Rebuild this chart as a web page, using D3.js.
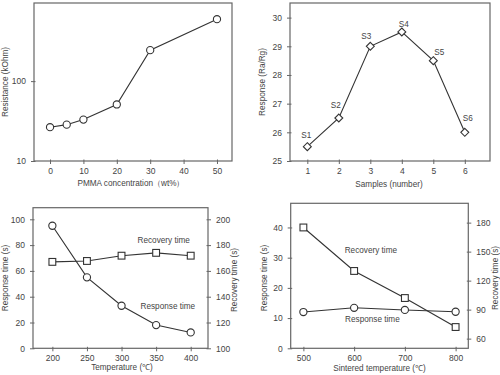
<!DOCTYPE html>
<html><head><meta charset="utf-8">
<script src="https://cdn.jsdelivr.net/npm/d3@7"></script>
<style>
html,body{margin:0;padding:0;background:#fff;}
svg{display:block;}
text{font-family:"Liberation Sans",Arial,sans-serif;fill:#444;}
</style></head>
<body>
<script>
// ---- data ----
const pmmaConc = [0, 5, 10, 20, 30, 50];
const resistance = [26.5, 28.5, 33, 51, 244, 596];

const samples = [1, 2, 3, 4, 5, 6];
const sampleLabels = ["S1", "S2", "S3", "S4", "S5", "S6"];
const sampleResponse = [25.5, 26.5, 29, 29.5, 28.5, 26];

const opTemps = [200, 250, 300, 350, 400];
const opResponseTime = [95, 55, 33, 18, 12.3];
const opRecoveryTime = [167, 167.7, 171.8, 174, 171.8];

const sinterTemps = [500, 600, 700, 800];
const sinterResponseTime = [12, 13.4, 12.7, 12.1];
const sinterRecoveryTime = [175, 130, 102, 72];

const p1XTicks = [0, 10, 20, 30, 40, 50];
const p1YTicks = [10, 100];
const p2XTicks = [1, 2, 3, 4, 5, 6];
const p2YTicks = [25, 26, 27, 28, 29, 30];
const p3XTicks = [200, 250, 300, 350, 400];
const p3YTicks = [0, 20, 40, 60, 80, 100];
const p3Y2Ticks = [100, 120, 140, 160, 180, 200];
const p4XTicks = [500, 600, 700, 800];
const p4YTicks = [0, 10, 20, 30, 40];
const p4Y2Ticks = [60, 90, 120, 150, 180];

// ---- style ----
const LINE = "#333", FRAME = "#666", TF = 8.5, LF = 8.2;
const sampleLabelOffsets = [[-1,-11],[-3,-12.5],[-4,-9],[2,-7],[6,-8],[3,-13]];

const svg = d3.select("body").append("svg").attr("width", 500).attr("height", 375);

function frame(x0, x1, y0, y1) {
  svg.append("rect").attr("x", x0).attr("y", y0).attr("width", x1 - x0).attr("height", y1 - y0)
    .attr("fill", "none").attr("stroke", FRAME).attr("stroke-width", 1.2);
}
function xAxis(scale, y, major, minor, fmt) {
  const g = svg.append("g").attr("transform", `translate(0,${y})`);
  g.call(d3.axisBottom(scale).tickValues(minor).tickFormat("").tickSize(2));
  g.call(d3.axisBottom(scale).tickValues(major).tickFormat(fmt || d3.format("d")).tickSize(3).tickPadding(4));
  g.selectAll(".domain").remove();
  g.selectAll(".tick line").attr("stroke", FRAME).attr("y1", -1.5);
  g.selectAll(".tick text").attr("font-size", TF).style("fill", "#444");
  g.attr("font-family", null);
}
function yAxis(scale, x, major, minor, fmt, right) {
  const ax = right ? d3.axisRight : d3.axisLeft;
  const g = svg.append("g").attr("transform", `translate(${x},0)`);
  g.call(ax(scale).tickValues(minor).tickFormat("").tickSize(2));
  g.call(ax(scale).tickValues(major).tickFormat(fmt || d3.format("d")).tickSize(3).tickPadding(5));
  g.selectAll(".domain").remove();
  g.selectAll(".tick line").attr("stroke", FRAME).attr("x1", right ? -1.5 : 1.5);
  g.selectAll(".tick text").attr("font-size", TF).style("fill", "#444");
  g.attr("font-family", null);
}
function title(x, y, txt, rot) {
  const t = svg.append("text").attr("font-size", LF).attr("text-anchor", "middle")
    .attr("dominant-baseline", "middle").text(txt);
  if (rot) t.attr("transform", `translate(${x},${y}) rotate(-90)`);
  else t.attr("x", x).attr("y", y);
}
function lineSeries(xs, ys, xS, yS, marker) {
  const pts = xs.map((d, i) => [xS(d), yS(ys[i])]);
  svg.append("path").attr("d", d3.line()(pts)).attr("fill", "none").attr("stroke", LINE).attr("stroke-width", 1.1);
  const g = svg.append("g");
  pts.forEach(p => {
    if (marker === "circle") g.append("circle").attr("cx", p[0]).attr("cy", p[1]).attr("r", 3.6);
    else if (marker === "square") g.append("rect").attr("x", p[0] - 3.4).attr("y", p[1] - 3.4).attr("width", 6.8).attr("height", 6.8);
    else g.append("path").attr("d", d3.symbol(d3.symbolDiamond2, 40)()).attr("transform", `translate(${p[0]},${p[1]})`);
  });
  g.selectAll("*").attr("fill", "#fff").attr("stroke", LINE).attr("stroke-width", 1.1);
  return pts;
}
function range(a, b, s) { return d3.range(a, b + s / 2, s); }

// ---- Panel 1 ----
{
  const x = d3.scaleLinear().domain([-4.8, 54.5]).range([34, 232]);
  const y = d3.scaleLog().domain([10, 950]).range([161, 3]);
  const minorY = [20,30,40,50,60,70,80,90,200,300,400,500,600,700,800,900];
  yAxis(y, 34, p1YTicks, minorY, d3.format("d"));
  xAxis(x, 161, p1XTicks, [5, 15, 25, 35, 45], d3.format("d"));
  frame(34, 232, 3, 161);
  lineSeries(pmmaConc, resistance, x, y, "circle");
  title(6, 82, "Resistance (kOhm)", true);
  title(131, 184, "PMMA concentration（wt%）");
}
// ---- Panel 2 ----
{
  const x = d3.scaleLinear().domain([0.45, 6.8]).range([290, 490]);
  const y = d3.scaleLinear().domain([25, 30.51]).range([161, 3]);
  yAxis(y, 290, p2YTicks, range(25.5, 30.5, 1), d3.format("d"));
  xAxis(x, 161, p2XTicks, range(1.5, 6.5, 1), d3.format("d"));
  frame(290, 490, 3, 161);
  const pts = lineSeries(samples, sampleResponse, x, y, "diamond");
  svg.append("g").selectAll("text").data(sampleLabels).join("text")
    .attr("x", (d, i) => pts[i][0] + sampleLabelOffsets[i][0])
    .attr("y", (d, i) => pts[i][1] + sampleLabelOffsets[i][1])
    .attr("font-size", LF).attr("text-anchor", "middle").attr("dominant-baseline", "middle").text(d => d);
  title(263, 82, "Response (Ra/Rg)", true);
  title(389, 184.5, "Samples (number)");
}
// ---- Panel 3 ----
{
  const x = d3.scaleLinear().domain([172, 425]).range([33, 208]);
  const y = d3.scaleLinear().domain([0, 109]).range([348.3, 207.7]);
  const y2 = d3.scaleLinear().domain([100, 209]).range([348.3, 207.7]);
  yAxis(y, 33, p3YTicks, range(10, 90, 20), d3.format("d"));
  yAxis(y2, 208, p3Y2Ticks, range(110, 190, 20), d3.format("d"), true);
  xAxis(x, 348.3, p3XTicks, range(225, 375, 50), d3.format("d"));
  frame(33, 208, 207.7, 348.3);
  lineSeries(opTemps, opRecoveryTime, x, y2, "square");
  lineSeries(opTemps, opResponseTime, x, y, "circle");
  title(x(361), y(83.4), "Recovery time");
  title(x(367), y(32), "Response time");
  title(6, 278, "Response time (s)", true);
  title(235, 280, "Recovery time (s)", true);
  title(122, 368, "Temperature (℃)");
}
// ---- Panel 4 ----
{
  const x = d3.scaleLinear().domain([475, 825]).range([290.7, 468.3]);
  const y = d3.scaleLinear().domain([0, 48]).range([348.3, 203.3]);
  const y2 = d3.scaleLinear().domain([50, 200]).range([348.3, 203.3]);
  yAxis(y, 290.7, p4YTicks, range(5, 45, 10), d3.format("d"));
  yAxis(y2, 468.3, p4Y2Ticks, range(75, 195, 30), d3.format("d"), true);
  xAxis(x, 348.3, p4XTicks, range(550, 750, 100), d3.format("d"));
  frame(290.7, 468.3, 203.3, 348.3);
  lineSeries(sinterTemps, sinterRecoveryTime, x, y2, "square");
  lineSeries(sinterTemps, sinterResponseTime, x, y, "circle");
  title(x(633), y(32.3), "Recovery time");
  title(x(636), y(9.5), "Response time");
  title(265, 278, "Response time (s)", true);
  title(496, 278, "Recovery time (s)", true);
  title(379.5, 369, "Sintered temperature (℃)");
}
</script>
</body></html>
